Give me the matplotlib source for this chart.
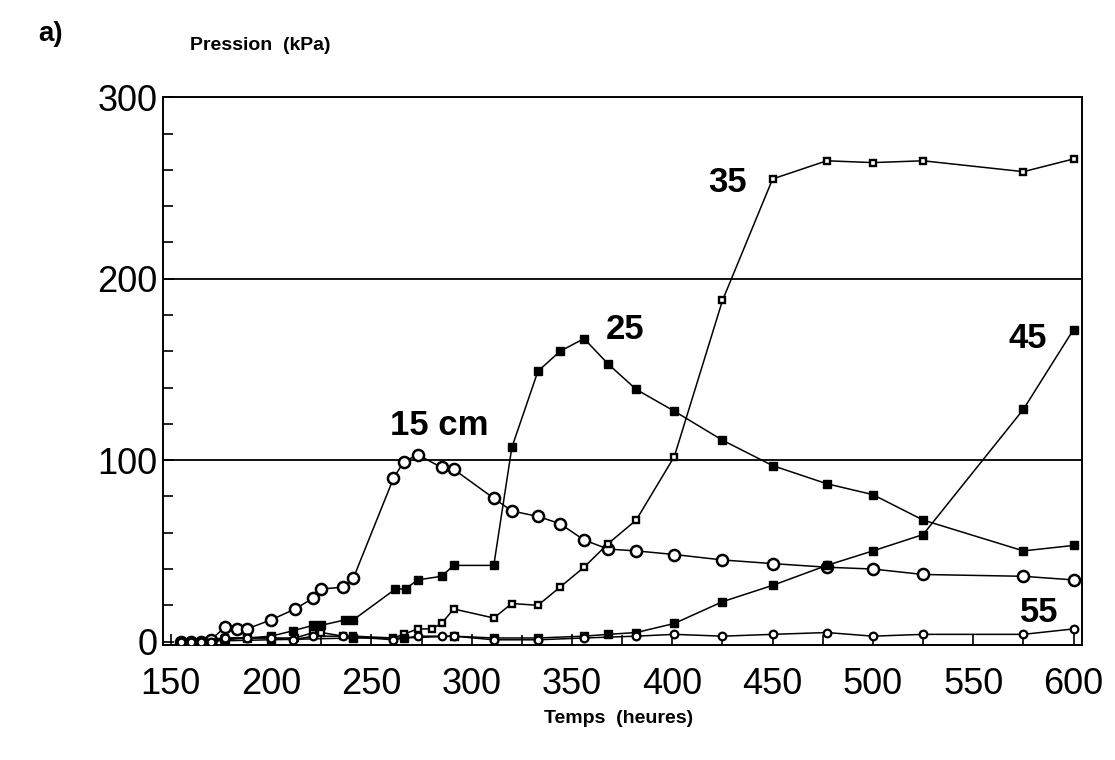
import matplotlib
matplotlib.use("Agg")
import matplotlib.pyplot as plt
from matplotlib.ticker import MultipleLocator

# pressure (kPa) vs time (h) at five depths
t15 = [155, 160, 165, 170, 177, 183, 188, 200, 212, 221, 225, 236, 241, 261, 266, 273, 285, 291,
       311, 320, 333, 344, 356, 368, 382, 401, 425, 450, 477, 500, 525, 575, 600]
p15 = [0, 0, 0, 1, 8, 7, 7, 12, 18, 24, 29, 30, 35, 90, 99, 103, 96, 95,
       79, 72, 69, 65, 56, 51, 50, 48, 45, 43, 41, 40, 37, 36, 34]

t25 = [155, 165, 177, 188, 200, 211, 221, 225, 237, 241, 262, 267, 273, 285, 291, 311, 320, 333,
       344, 356, 368, 382, 401, 425, 450, 477, 500, 525, 575, 600]
p25 = [0, 0, 1, 2, 3, 6, 9, 9, 12, 12, 29, 29, 34, 36, 42, 42, 107, 149,
       160, 167, 153, 139, 127, 111, 97, 87, 81, 67, 50, 53]

t35 = [155, 177, 188, 200, 212, 221, 225, 236, 241, 261, 266, 273, 280, 285, 291, 311, 320, 333,
       344, 356, 368, 382, 401, 425, 450, 477, 500, 525, 575, 600]
p35 = [0, 2, 2, 2, 2, 5, 5, 3, 3, 2, 4, 7, 7, 10, 18, 13, 21, 20,
       30, 41, 54, 67, 102, 188, 255, 265, 264, 265, 259, 266]

t45 = [155, 200, 241, 266, 291, 311, 333, 356, 368, 382, 401, 425, 450, 477, 500, 525, 575, 600]
p45 = [0, 1, 2, 2, 3, 2, 2, 3, 4, 5, 10, 22, 31, 42, 50, 59, 128, 172]

t55 = [155, 160, 165, 170, 177, 188, 200, 211, 221, 236, 261, 273, 285, 291, 311, 333, 356, 382,
       401, 425, 450, 477, 500, 525, 575, 600]
p55 = [0, 0, 0, 0, 2, 2, 2, 1, 3, 3, 1, 3, 3, 3, 1, 1, 2, 3,
       4, 3, 4, 5, 3, 4, 4, 7]

x_ticks = [150, 200, 250, 300, 350, 400, 450, 500, 550, 600]
y_ticks = [0, 100, 200, 300]

plt.rcParams["font.family"] = ["Liberation Sans", "DejaVu Sans"]

fig = plt.figure(figsize=(11.15, 7.6), dpi=100)
ax = fig.add_axes([0.146, 0.151, 0.824, 0.721])

ax.axhline(100, color="black", lw=1.3, zorder=1)
ax.axhline(200, color="black", lw=1.3, zorder=1)

line_kw = dict(color="black", lw=1.1, zorder=3)
ax.plot(t15, p15, marker="o", ms=8, mfc="white", mec="black", mew=1.8, **line_kw)
ax.plot(t25, p25, marker="s", ms=5.5, mfc="black", mec="black", mew=1.0, **line_kw)
ax.plot(t35, p35, marker="s", ms=5, mfc="white", mec="black", mew=1.7, **line_kw)
ax.plot(t45, p45, marker="s", ms=5.5, mfc="black", mec="black", mew=1.0, **line_kw)
ax.plot(t55, p55, marker="o", ms=5.5, mfc="white", mec="black", mew=1.6, **line_kw)

ax.set_xlim(146, 604)
ax.set_ylim(-2, 300)
ax.set_xticks(x_ticks)
ax.set_yticks(y_ticks)
ax.xaxis.set_minor_locator(MultipleLocator(25))
ax.yaxis.set_minor_locator(MultipleLocator(20))
ax.tick_params(axis="both", which="major", direction="in", length=8, width=1.2,
               labelsize=26)
ax.tick_params(axis="both", which="minor", direction="in", length=7, width=1.2)
ax.tick_params(axis="x", which="major", pad=16)
ax.tick_params(axis="y", which="major", pad=4)
ax.tick_params(right=False, top=False)
for s in ax.spines.values():
    s.set_linewidth(1.4)

lab_kw = dict(fontsize=25, fontweight="bold", va="center")
ax.text(284, 119, "15 cm", ha="center", **lab_kw)
ax.text(367, 172, "25", ha="left", **lab_kw)
ax.text(437, 253, "35", ha="right", **lab_kw)
ax.text(587, 167, "45", ha="right", **lab_kw)
ax.text(583, 16, "55", ha="center", **lab_kw)

fig.text(0.034, 0.955, "a)", fontsize=20, fontweight="bold", ha="left", va="center")
fig.text(0.17, 0.94, "Pression  (kPa)", fontsize=14, fontweight="bold", ha="left", va="center")
fig.text(0.555, 0.055, "Temps  (heures)", fontsize=14, fontweight="bold", ha="center", va="center")

fig.savefig("out.png", dpi=100)
